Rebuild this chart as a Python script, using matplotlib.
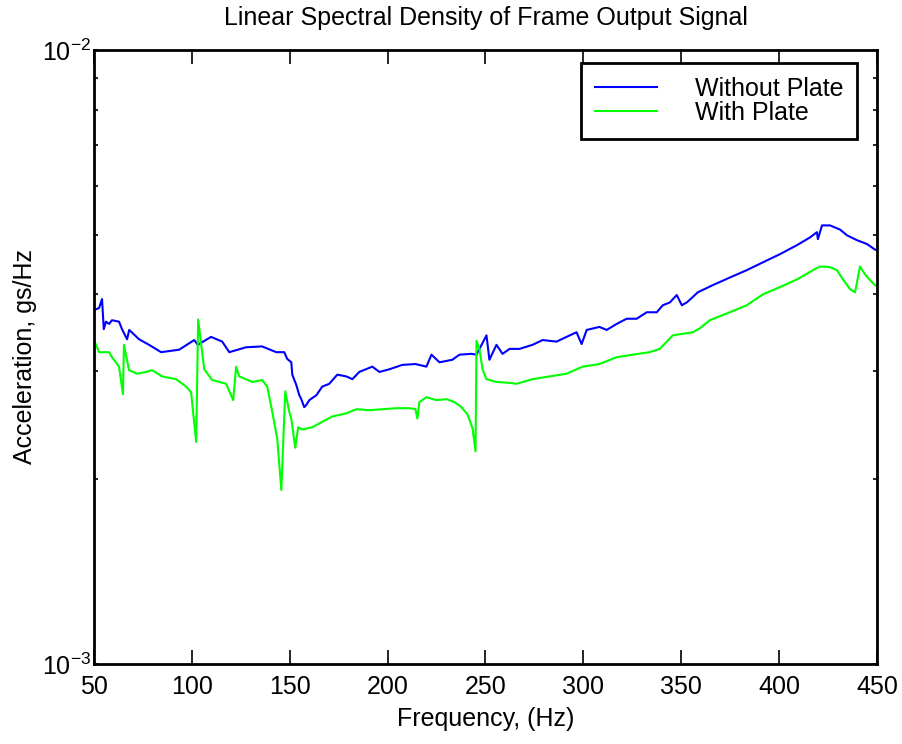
import numpy as np
import matplotlib
matplotlib.use('Agg')
import matplotlib.pyplot as plt
from matplotlib.ticker import FixedLocator, NullFormatter, FixedFormatter

plt.rcParams['font.family'] = ['Liberation Sans', 'DejaVu Sans']
plt.rcParams['mathtext.fontset'] = 'custom'
plt.rcParams['mathtext.rm'] = 'Liberation Sans'
plt.rcParams['mathtext.it'] = 'Liberation Sans'

# Data (acceleration in units of 1e-3 gs/Hz)
freq_without = [50, 52.6, 54.1, 55.0, 56.1, 57.7, 59.2, 62.8, 64.3, 66.9, 68.0, 73.0,
                78.1, 84.3, 93.5, 101.2, 103.0, 109.8, 115.5, 119.1, 127.7, 135.9,
                143.1, 147.2, 148.7, 150.8, 151.3, 153.3, 154.9, 155.9, 157.4, 158.4,
                160.0, 163.6, 166.6, 170.2, 174.3, 178.9, 182.0, 185.5, 192.2, 195.8,
                200.9, 207.5, 214.2, 219.8, 222.4, 226.5, 233.1, 236.7, 242.8, 245.4,
                250.5, 252.0, 255.6, 258.7, 262.3, 267.4, 274.0, 279.2, 286.3, 291.4,
                296.5, 299.1, 301.7, 308.2, 311.9, 317.0, 322.1, 327.2, 332.4, 337.5,
                340.6, 344.2, 347.7, 350.3, 352.8, 355.9, 358.4, 366.1, 374.8, 383.5,
                391.7, 400.4, 409.1, 415.7, 419.3, 419.8, 421.9, 426.0, 431.1, 434.7,
                439.8, 444.9, 449.0, 450]
accel_without = [3.77, 3.80, 3.93, 3.51, 3.61, 3.58, 3.63, 3.61, 3.51, 3.38, 3.50, 3.38,
                 3.31, 3.22, 3.25, 3.37, 3.31, 3.41, 3.35, 3.22, 3.28, 3.29,
                 3.22, 3.22, 3.14, 3.10, 2.96, 2.85, 2.74, 2.70, 2.62, 2.64,
                 2.69, 2.74, 2.83, 2.86, 2.96, 2.94, 2.91, 2.99, 3.05, 2.99,
                 3.02, 3.07, 3.08, 3.05, 3.19, 3.10, 3.13, 3.19, 3.20, 3.19,
                 3.43, 3.13, 3.31, 3.20, 3.26, 3.26, 3.31, 3.37, 3.35, 3.41,
                 3.47, 3.32, 3.50, 3.54, 3.50, 3.58, 3.65, 3.65, 3.74, 3.74,
                 3.84, 3.88, 3.99, 3.84, 3.88, 3.96, 4.03, 4.14, 4.26, 4.38,
                 4.51, 4.65, 4.81, 4.95, 5.05, 4.92, 5.18, 5.18, 5.10, 4.99,
                 4.90, 4.83, 4.73, 4.72]

freq_with = [50, 52.6, 57.7, 59.2, 62.8, 64.8, 65.3, 67.9, 72.0, 76.6, 79.7, 84.8,
             91.9, 97.1, 99.6, 102.2, 103.2, 106.3, 110.4, 117.5, 121.1, 122.6, 124.2,
             130.8, 135.9, 138.5, 141.0, 143.6, 145.7, 147.7, 149.7, 150.8, 152.8,
             154.3, 156.4, 161.5, 166.6, 171.7, 178.9, 184.0, 190.7, 197.3, 204.5,
             211.1, 214.2, 215.2, 216.2, 219.8, 224.9, 230.1, 234.1, 237.7, 240.8,
             243.4, 244.9, 245.4, 246.9, 248.5, 250.5, 255.6, 262.3, 265.9, 274.0,
             282.7, 291.4, 299.6, 308.2, 317.0, 325.2, 333.9, 339.0, 342.6, 345.7,
             350.8, 355.9, 359.4, 364.6, 374.8, 383.5, 391.7, 400.4, 409.1, 417.3,
             420.8, 426.0, 429.5, 432.6, 436.2, 438.8, 441.3, 443.9, 446.4, 449.0, 450]
accel_with = [3.37, 3.22, 3.22, 3.16, 3.05, 2.75, 3.31, 3.01, 2.97, 2.99, 3.01, 2.94,
              2.91, 2.83, 2.77, 2.30, 3.64, 3.02, 2.90, 2.86, 2.69, 3.05, 2.94,
              2.88, 2.90, 2.83, 2.58, 2.33, 1.92, 2.78, 2.58, 2.51, 2.25,
              2.43, 2.41, 2.43, 2.48, 2.53, 2.56, 2.60, 2.59, 2.60, 2.61,
              2.61, 2.60, 2.51, 2.67, 2.72, 2.69, 2.70, 2.67, 2.62, 2.55,
              2.42, 2.22, 3.36, 3.26, 3.02, 2.91, 2.88, 2.87, 2.86, 2.91,
              2.94, 2.97, 3.05, 3.08, 3.16, 3.19, 3.22, 3.26, 3.35, 3.43,
              3.45, 3.47, 3.52, 3.63, 3.74, 3.84, 4.00, 4.11, 4.23, 4.38,
              4.44, 4.43, 4.38, 4.23, 4.08, 4.03, 4.44, 4.31, 4.22, 4.14, 4.12]

x_ticks = [50, 100, 150, 200, 250, 300, 350, 400, 450]

fig = plt.figure(figsize=(9.03, 7.44), dpi=100)
ax = fig.add_axes([94 / 903, (744 - 664) / 744, (877 - 94) / 903, (664 - 50) / 744])

ax.plot(freq_without, np.array(accel_without) * 1e-3, color=(0, 0, 1), lw=1.5, label='Without Plate')
ax.plot(freq_with, np.array(accel_with) * 1e-3, color=(0, 1, 0), lw=1.5, label='With Plate')

ax.set_yscale('log')
ax.set_xlim(50, 450)
ax.set_ylim(1e-3, 1e-2)
ax.set_xticks(x_ticks)
ax.yaxis.set_major_locator(FixedLocator([1e-3, 1e-2]))
ax.yaxis.set_major_formatter(FixedFormatter([r'$10^{-3}$', r'$10^{-2}$']))
ax.yaxis.set_minor_locator(FixedLocator([k * 1e-3 for k in range(2, 10)]))
ax.yaxis.set_minor_formatter(NullFormatter())

for s in ax.spines.values():
    s.set_linewidth(2)
ax.tick_params(axis='x', which='both', direction='in', top=True, length=10, width=1.2,
               labelsize=18, pad=8)
ax.tick_params(axis='y', which='both', direction='in', right=True, length=3, width=1.2,
               labelsize=18, pad=2)

ax.set_title('Linear Spectral Density of Frame Output Signal', fontsize=18, pad=18)
ax.set_xlabel('Frequency, (Hz)', fontsize=18, labelpad=6)
ax.set_ylabel('Acceleration, gs/Hz', fontsize=18, labelpad=4)

leg = ax.legend(loc='upper right', bbox_to_anchor=(857 / 903, (744 - 63) / 744),
                bbox_transform=fig.transFigure, fontsize=18, fancybox=False,
                framealpha=1, edgecolor='black', handlelength=2.5, handletextpad=1.5,
                labelspacing=0.0, borderpad=0.55, borderaxespad=0)
leg.get_frame().set_linewidth(2)
for line in leg.get_lines():
    line.set_linewidth(1.5)

fig.savefig('out.png', dpi=100)
